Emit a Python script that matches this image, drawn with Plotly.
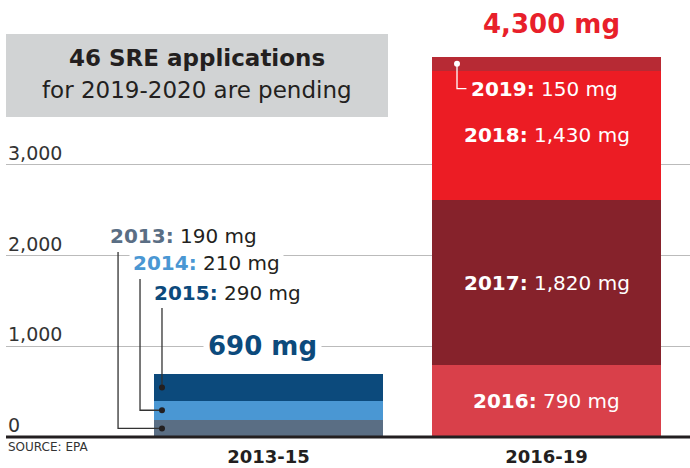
import plotly.graph_objects as go

# ---------------- data ----------------
categories = ["2013-15", "2016-19"]
left_years = ["2013", "2014", "2015"]
left_values = [190, 210, 290]
right_years = ["2016", "2017", "2018", "2019"]
right_values = [790, 1820, 1430, 150]
total_labels = ["690 mg", "4,300 mg"]
y_tick_values = [0, 1000, 2000, 3000]
y_tick_labels = ["0", "1,000", "2,000", "3,000"]
box_title = "46 SRE applications"
box_subtitle = "for 2019-2020 are pending"
source_text = "SOURCE: EPA"

# ---------------- style ----------------
left_colors = ["#5a6e84", "#4a97d3", "#0c4a7c"]
right_colors = ["#d9404a", "#86222b", "#ec1c24", "#b72a34"]
FONT = "DejaVu Sans"
DARK = "#231f20"
BAR_W = 0.824

fig = go.Figure()

groups = [(left_years, left_values, left_colors), (right_years, right_values, right_colors)]
for idx, (years, values, colors) in enumerate(groups):
    for yr, v, c in zip(years, values, colors):
        fig.add_trace(go.Bar(
            x=[idx], y=[v], width=BAR_W, name=yr,
            marker=dict(color=c, line=dict(width=0)),
            showlegend=False, hoverinfo="skip",
        ))


def midpoints(vals):
    out, acc = [], 0
    for v in vals:
        out.append(acc + v / 2)
        acc += v
    return out


def bases(vals):
    out, acc = [], 0
    for v in vals:
        out.append(acc)
        acc += v
    return out


annotations = []
shapes = []

# y tick labels (sitting above gridlines)
for val, lab in zip(y_tick_values, y_tick_labels):
    annotations.append(dict(
        x=0, xref="paper", y=val, yref="y", text=lab, showarrow=False,
        xanchor="left", yanchor="middle", yshift=12,
        font=dict(family=FONT, size=19, color="#333333"),
    ))

# gray box with text
shapes.append(dict(type="rect", xref="paper", yref="paper",
                   x0=0, x1=0.5585, y0=0.7323, y1=0.9222,
                   fillcolor="#d1d3d4", line=dict(width=0), layer="below"))
annotations.append(dict(x=0.279, xref="paper", y=0.867, yref="paper",
                        text="<b>" + box_title + "</b>", showarrow=False,
                        xanchor="center", yanchor="middle",
                        font=dict(family=FONT, size=23, color=DARK)))
annotations.append(dict(x=0.279, xref="paper", y=0.795, yref="paper",
                        text=box_subtitle, showarrow=False,
                        xanchor="center", yanchor="middle",
                        font=dict(family=FONT, size=23, color=DARK)))

# left bar labels with elbow leader lines
left_mids = midpoints(left_values)
label_x = [-0.584, -0.501, -0.426]
label_y = [2211, 1913, 1593]
line_x = [-0.541, -0.462, -0.383]
dot_x = -0.383
for i, (yr, v, c) in enumerate(zip(left_years, left_values, left_colors)):
    annotations.append(dict(
        x=label_x[i], y=label_y[i], xref="x", yref="y", showarrow=False,
        xanchor="left", yanchor="middle",
        text=f"<b><span style='color:{c}'>{yr}:</span></b> {v:,} mg",
        font=dict(family=FONT, size=20, color=DARK),
        bgcolor="white" if i == 1 else "rgba(0,0,0,0)", borderpad=3,
    ))
    top = label_y[i] - 170
    fig.add_trace(go.Scatter(
        x=[line_x[i], line_x[i], dot_x], y=[top, left_mids[i], left_mids[i]],
        mode="lines", line=dict(color="#333333", width=1.3),
        showlegend=False, hoverinfo="skip"))
fig.add_trace(go.Scatter(
    x=[dot_x] * len(left_mids), y=left_mids, mode="markers",
    marker=dict(color=DARK, size=6), showlegend=False, hoverinfo="skip"))

# right bar labels
right_mids = midpoints(right_values)
right_bases = bases(right_values)
for i, (yr, v) in enumerate(zip(right_years, right_values)):
    if i < 3:
        annotations.append(dict(
            x=1, y=right_mids[i], xref="x", yref="y", showarrow=False,
            xanchor="center", yanchor="middle",
            text=f"<b>{yr}:</b> {v:,} mg",
            font=dict(family=FONT, size=20, color="white")))
    else:
        ly = right_bases[i] - 200
        annotations.append(dict(
            x=0.722, y=ly, xref="x", yref="y", showarrow=False,
            xanchor="left", yanchor="middle",
            text=f"<b>{yr}:</b> {v:,} mg",
            font=dict(family=FONT, size=20, color="white")))
        fig.add_trace(go.Scatter(
            x=[0.678, 0.678, 0.712], y=[right_mids[i], ly, ly],
            mode="lines", line=dict(color="white", width=1.3),
            showlegend=False, hoverinfo="skip"))
        fig.add_trace(go.Scatter(
            x=[0.678], y=[right_mids[i]], mode="markers",
            marker=dict(color="white", size=6), showlegend=False, hoverinfo="skip"))

# totals
annotations.append(dict(x=-0.02, y=1000, xref="x", yref="y", showarrow=False,
                        xanchor="center", yanchor="middle",
                        text=f"<b>{total_labels[0]}</b>", bgcolor="white", borderpad=4,
                        font=dict(family=FONT, size=26, color="#0c4a7c")))
annotations.append(dict(x=1.018, y=4553, xref="x", yref="y", showarrow=False,
                        xanchor="center", yanchor="middle",
                        text=f"<b>{total_labels[1]}</b>",
                        font=dict(family=FONT, size=26, color="#e8202a")))

# source
annotations.append(dict(x=0, xref="paper", y=-0.024, yref="paper", text=source_text,
                        showarrow=False, xanchor="left", yanchor="middle",
                        font=dict(family=FONT, size=12, color="#333333")))

# baseline
shapes.append(dict(type="line", xref="paper", yref="paper", x0=0, x1=1, y0=0, y1=0,
                   line=dict(color=DARK, width=3), layer="above"))

fig.update_layout(
    width=690, height=468,
    margin=dict(l=6, r=0, t=0, b=31),
    paper_bgcolor="white", plot_bgcolor="white",
    barmode="stack",
    showlegend=False,
    xaxis=dict(range=[-0.944, 1.516], tickvals=[0, 1], ticktext=categories,
               showgrid=False, zeroline=False, showline=False, ticks="",
               ticklabelstandoff=7,
               tickfont=dict(family=FONT, size=18, color=DARK, weight="bold")),
    yaxis=dict(range=[0, 4818], tickvals=y_tick_values[1:], showticklabels=False,
               showgrid=True, gridcolor="#bbbbbb", gridwidth=1,
               zeroline=False, showline=False, ticks=""),
    annotations=annotations,
    shapes=shapes,
)

fig.write_html("out.html", config={"displayModeBar": False},
               post_script="document.body.style.margin='0px';")
